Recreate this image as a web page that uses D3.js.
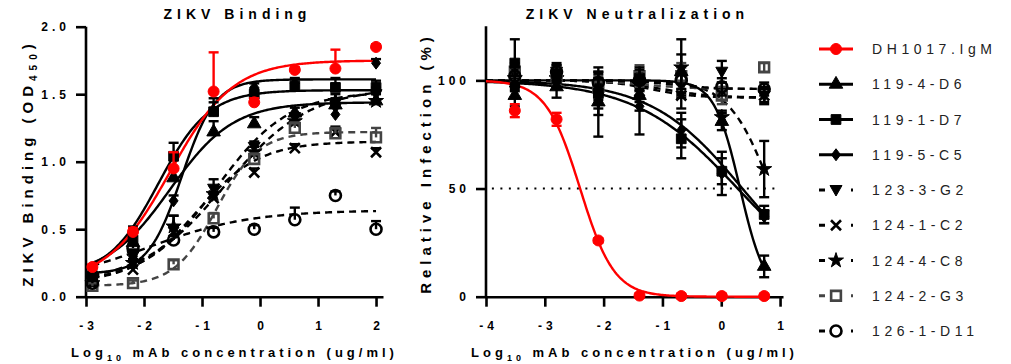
<!DOCTYPE html>
<html>
<head>
<meta charset="utf-8">
<script src="https://cdn.jsdelivr.net/npm/d3@7"></script>
<style>
  body { margin: 0; background: #fff; }
  svg { display: block; font-family: "Liberation Sans", Arial, sans-serif; }
</style>
</head>
<body>
<svg id="chart" width="1011" height="364"></svg>
<script>
// antibodies, in legend order
const series = ['DH1017.IgM', '119-4-D6', '119-1-D7', '119-5-C5', '123-3-G2',
  '124-1-C2', '124-4-C8', '124-2-G3', '126-1-D11'];

// log10 mAb concentration (ug/ml)
const bindX = [-2.89, -2.19, -1.49, -0.80, -0.10, 0.60, 1.30, 2.00];
const neutX = [-3.51, -2.80, -2.09, -1.39, -0.68, 0.01, 0.73];

// ZIKV binding, OD450 (mean), one row per antibody
const bindMean = [
  [0.22, 0.48, 0.95, 1.52, 1.44, 1.68, 1.69, 1.85],
  [0.18, 0.40, 0.88, 1.22, 1.28, 1.36, 1.42, 1.45],
  [0.15, 0.42, 1.04, 1.37, 1.50, 1.56, 1.55, 1.55],
  [0.16, 0.30, 0.71, 1.38, 1.55, 1.58, 1.35, 1.73],
  [0.12, 0.30, 0.50, 0.80, 1.11, 1.33, 1.40, 1.50],
  [0.10, 0.20, 0.48, 0.73, 0.92, 1.10, 1.22, 1.07],
  [0.10, 0.25, 0.52, 0.76, 1.07, 1.30, 1.45, 1.45],
  [0.08, 0.10, 0.24, 0.58, 1.02, 1.25, 1.21, 1.18],
  [0.10, 0.36, 0.42, 0.48, 0.50, 0.57, 0.75, 0.50]
];
// SD (only drawn upward on the binding panel)
const bindSD = [
  [0.02, 0.03, 0.12, 0.29, 0.03, 0.02, 0.14, 0.02],
  [0.03, 0.05, 0.06, 0.08, 0.05, 0.04, 0.05, 0.05],
  [0.03, 0.10, 0.10, 0.10, 0.04, 0.05, 0.07, 0.05],
  [0.03, 0.05, 0.04, 0.06, 0.03, 0.04, 0.05, 0.03],
  [0.03, 0.04, 0.10, 0.07, 0.04, 0.03, 0.05, 0.05],
  [0.02, 0.03, 0.05, 0.05, 0.03, 0.03, 0.04, 0.03],
  [0.02, 0.03, 0.08, 0.06, 0.04, 0.04, 0.05, 0.08],
  [0.02, 0.02, 0.03, 0.04, 0.04, 0.04, 0.04, 0.07],
  [0.02, 0.03, 0.03, 0.03, 0.03, 0.09, 0.03, 0.06]
];
// 4PL fits: bottom, top, logEC50, hill
const bindFit = [
  [0.10, 1.75, -1.55, 0.80],
  [0.15, 1.44, -1.55, 0.80],
  [0.15, 1.53, -1.75, 1.00],
  [0.17, 1.61, -1.35, 1.50],
  [0.10, 1.55, -0.60, 0.60],
  [0.10, 1.15, -1.10, 0.80],
  [0.10, 1.52, -0.75, 0.70],
  [0.08, 1.22, -0.75, 1.20],
  [0.10, 0.64, -1.90, 0.50]
];

// ZIKV neutralization, relative infection (%)
const neutMean = [
  [86, 82, 26, 0.5, 0.3, 0.3, 0.3],
  [93, 97, 90, 93, 104, 81, 14],
  [108, 103, 94, 101, 73, 58, 38],
  [97, 100, 90, 88, 77, 57, 37],
  [100, 104, 98, 97, 98, 104, 93],
  [99, 102, 96, 95, 93, 95, 93],
  [101, 101, 99, 98, 106, 83, 59],
  [104, 102, 97, 102, 102, 93, 106],
  [102, 104, 99, 100, 100, 97, 96]
];
const neutSD = [
  [3, 3, 1, 1, 1, 1, 1],
  [5, 5, 6, 7, 8, 4, 5],
  [11, 4, 7, 5, 9, 6, 4],
  [5, 4, 16, 13, 8, 10, 3],
  [4, 3, 5, 5, 6, 5, 4],
  [4, 3, 5, 5, 6, 4, 3],
  [4, 4, 5, 6, 13, 3, 13],
  [4, 4, 5, 5, 6, 4, 2],
  [4, 4, 5, 5, 6, 4, 3]
];
// bottom, top, logIC50, hill
const neutFit = [
  [0, 100, -2.40, 1.50],
  [0, 100, 0.32, 2.00],
  [0, 100, 0.28, 0.50],
  [0, 100, 0.36, 0.56],
  [92, 100, -1.00, 1.00],
  [92, 100, -1.20, 1.20],
  [0, 100, 0.85, 1.20],
  [96, 100, -1.30, 1.00],
  [96, 100, -0.80, 1.20]
];

const bindTicks = [0, 0.5, 1, 1.5, 2];
const neutTicks = [0, 50, 100];

// drawing styles per antibody
const styles = [
  { color: '#f00', marker: 'circle', open: false, dash: null },
  { color: '#000', marker: 'triangle', open: false, dash: null },
  { color: '#000', marker: 'square', open: false, dash: null },
  { color: '#000', marker: 'diamond', open: false, dash: null },
  { color: '#000', marker: 'triangleDown', open: false, dash: '7,5' },
  { color: '#000', marker: 'x', open: true, dash: '7,5' },
  { color: '#000', marker: 'star', open: false, dash: '7,5' },
  { color: '#444', marker: 'square', open: true, dash: '7,5' },
  { color: '#000', marker: 'circle', open: true, dash: '7,5' }
];

const svg = d3.select('#chart');

function markerPath(type) {
  switch (type) {
    case 'circle': return d3.symbol(d3.symbolCircle, 95)();
    case 'square': return d3.symbol(d3.symbolSquare, 95)();
    case 'triangle': return d3.symbol(d3.symbolTriangle, 80)();
    case 'triangleDown': return 'M-6,-4.5L6,-4.5L0,6Z';
    case 'diamond': return 'M0,-6L4.5,0L0,6L-4.5,0Z';
    case 'star': return d3.symbol(d3.symbolStar, 70)();
    case 'x': return 'M-5,-5L5,5M-5,5L5,-5';
  }
}

function drawMarker(g, i, x, y) {
  const s = styles[i];
  g.append('path')
    .attr('d', markerPath(s.marker))
    .attr('transform', 'translate(' + x + ',' + y + ')')
    .attr('fill', s.open ? 'none' : s.color)
    .attr('stroke', s.color)
    .attr('stroke-width', s.open ? 2.6 : 1);
}

function bind4pl(p, x) { return p[0] + (p[1] - p[0]) / (1 + Math.pow(10, (p[2] - x) * p[3])); }
function neut4pl(p, x) { return p[0] + (p[1] - p[0]) / (1 + Math.pow(10, (x - p[2]) * p[3])); }

function styleAxis(g) {
  g.select('.domain').attr('stroke-width', 2.6);
  g.selectAll('.tick line').attr('stroke-width', 2.6);
  g.selectAll('.tick text')
    .attr('font-size', 12).attr('font-weight', 'bold')
    .style('letter-spacing', '4px').attr('fill', '#000');
}

function drawPanel(o) {
  const x = d3.scaleLinear().domain(o.xDomain).range(o.xRange);
  const y = d3.scaleLinear().domain(o.yDomain).range([296.7, o.yTop]);

  // axes
  svg.append('g')
    .attr('transform', 'translate(0,296.7)')
    .call(d3.axisBottom(x).tickValues(o.xTicks).tickSize(10).tickSizeOuter(0)
      .tickPadding(15).tickFormat(d => String(d)))
    .call(styleAxis)
    .selectAll('.tick text').attr('dx', 2);
  svg.append('g')
    .attr('transform', 'translate(' + o.xRange[0] + ',0)')
    .call(d3.axisLeft(y).tickValues(o.yTicks).tickSize(10).tickSizeOuter(0).tickPadding(6).tickFormat(o.yFormat))
    .call(styleAxis)
    .select('.domain').attr('d', 'M0,' + (296.7 + 1.3) + 'V' + o.yTop);

  if (o.refLine) {
    svg.append('line')
      .attr('x1', x(o.refLine[0])).attr('x2', x(o.refLine[1]))
      .attr('y1', y(o.refLine[2])).attr('y2', y(o.refLine[2]))
      .attr('stroke', '#000').attr('stroke-width', 2)
      .attr('stroke-dasharray', '2,6.5');
  }

  const order = [4, 5, 6, 7, 8, 1, 2, 3, 0];
  const line = d3.line().x(d => x(d[0])).y(d => y(d[1]));

  // fitted curves
  order.forEach(i => {
    const pts = d3.range(0, 201).map(k => {
      const xv = o.curveX[0] + (o.curveX[1] - o.curveX[0]) * k / 200;
      return [xv, o.model(o.fit[i], xv)];
    });
    svg.append('path')
      .attr('d', line(pts))
      .attr('fill', 'none')
      .attr('stroke', styles[i].color)
      .attr('stroke-width', 2.4)
      .attr('stroke-dasharray', styles[i].dash);
  });

  // error bars + points
  order.forEach(i => {
    const g = svg.append('g');
    o.xs.forEach((xv, j) => {
      const m = o.mean[i][j], sd = o.sd[i][j];
      const lo = o.bothSides ? m - sd : m;
      const hi = m + sd;
      g.append('line').attr('x1', x(xv)).attr('x2', x(xv))
        .attr('y1', y(lo)).attr('y2', y(hi))
        .attr('stroke', styles[i].color).attr('stroke-width', 2.4);
      g.append('line').attr('x1', x(xv) - 5).attr('x2', x(xv) + 5)
        .attr('y1', y(hi)).attr('y2', y(hi))
        .attr('stroke', styles[i].color).attr('stroke-width', 2.4);
      if (o.bothSides) {
        g.append('line').attr('x1', x(xv) - 5).attr('x2', x(xv) + 5)
          .attr('y1', y(lo)).attr('y2', y(lo))
          .attr('stroke', styles[i].color).attr('stroke-width', 2.4);
      }
      drawMarker(g, i, x(xv), y(m));
    });
  });

  // titles
  const cx = (o.xRange[0] + o.xRange[1]) / 2;
  svg.append('text')
    .attr('x', cx + 3).attr('y', 19)
    .attr('text-anchor', 'middle')
    .attr('font-size', 14).attr('font-weight', 'bold')
    .style('letter-spacing', '5px')
    .text(o.title);

  const xl = svg.append('text')
    .attr('x', cx).attr('y', 357)
    .attr('text-anchor', 'middle')
    .attr('font-size', 13).attr('font-weight', 'bold')
    .style('letter-spacing', '4px');
  xl.append('tspan').text('Log');
  xl.append('tspan').attr('font-size', 9).attr('dy', 4).text('10');
  xl.append('tspan').attr('dy', -4).text(' mAb concentration (ug/ml)');

  const yl = svg.append('text')
    .attr('transform', 'translate(' + o.yLabelX + ',163) rotate(-90)')
    .attr('text-anchor', 'middle')
    .attr('font-size', 15).attr('font-weight', 'bold')
    .style('letter-spacing', '5px');
  o.yLabel(yl);
}

drawPanel({
  title: 'ZIKV Binding',
  xDomain: [-3, 2.12], xRange: [86, 383], xTicks: [-3, -2, -1, 0, 1, 2],
  yDomain: [0, 2], yTop: 26.7, yTicks: bindTicks, yFormat: d3.format('.1f'),
  xs: bindX, mean: bindMean, sd: bindSD, fit: bindFit, model: bind4pl,
  curveX: [bindX[0], bindX[bindX.length - 1]], bothSides: false,
  yLabelX: 33,
  yLabel: t => {
    t.append('tspan').text('ZIKV Binding (OD');
    t.append('tspan').attr('font-size', 10).attr('dy', 4).text('450');
    t.append('tspan').attr('dy', -4).text(')');
  }
});

drawPanel({
  title: 'ZIKV Neutralization',
  xDomain: [-4, 1.05], xRange: [486, 783], xTicks: [-4, -3, -2, -1, 0, 1],
  yDomain: [0, 125], yTop: 26.3, yTicks: neutTicks, yFormat: d3.format('d'),
  xs: neutX, mean: neutMean, sd: neutSD, fit: neutFit, model: neut4pl,
  curveX: [-4, neutX[neutX.length - 1]], bothSides: true,
  refLine: [-3.9, 1.0, 50],
  yLabelX: 431,
  yLabel: t => t.text('Relative Infection (%)')
});

// legend
const legend = svg.append('g');
series.forEach((name, i) => {
  const cy = 49 + i * 35.25;
  const s = styles[i];
  legend.append('line')
    .attr('x1', 819).attr('x2', 853).attr('y1', cy).attr('y2', cy)
    .attr('stroke', s.color).attr('stroke-width', 3)
    .attr('stroke-dasharray', s.dash ? '6,26' : null);
  drawMarker(legend, i, 836, cy);
  legend.append('text')
    .attr('x', 872).attr('y', cy + 5)
    .attr('font-size', 14)
    .style('letter-spacing', '4.6px')
    .attr('fill', '#222')
    .text(name);
});
</script>
</body>
</html>
